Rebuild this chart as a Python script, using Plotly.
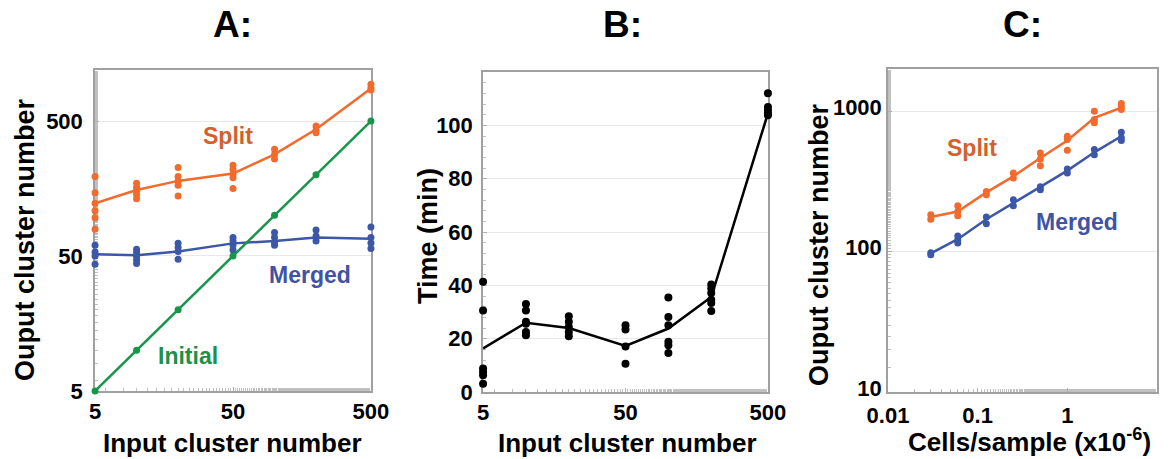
import math
import plotly.graph_objects as go

# ---------------- data ----------------
# Panel A: input cluster number vs output cluster number
A_X = [5, 10, 20, 50, 100, 200, 500]
A_INITIAL = [5, 10, 20, 50, 100, 200, 500]
A_SPLIT_LINE = [123, 154, 180, 204, 283, 434, 870]
A_SPLIT_PTS = [
    [194, 147, 123, 108, 96, 79],
    [173, 161, 151, 143, 133],
    [226, 194, 180, 167, 139],
    [235, 219, 201, 190, 158],
    [309, 283, 261],
    [459, 427, 410],
    [935, 883, 849],
]
A_MERGED_LINE = [51.5, 50.6, 53.9, 62, 64.6, 68.4, 67.2]
A_MERGED_PTS = [
    [60, 53.5, 50, 43.4],
    [56, 53, 49.5, 46.7, 44],
    [62, 57.7, 54, 47.3],
    [68.4, 64.6, 60, 55.3],
    [74.5, 68.4, 62.8, 60],
    [78, 70.3, 64.6],
    [82, 68.4, 62.5, 56.7],
]

# Panel B: input cluster number vs time (min)
B_X = [5, 10, 20, 50, 100, 200, 500]
B_LINE = [16.3, 26, 24, 17.3, 23.8, 35.6, 104.5]
B_PTS = [
    [41.3, 30.6, 8.8, 7.5, 6.3, 3.1],
    [33, 30.6, 26.3, 25.6, 22.5, 21.3],
    [28.4, 26.3, 24.4, 22.5, 20.9],
    [25, 23.4, 17.1, 10.6],
    [35.4, 28.1, 25, 18.8, 17.5, 14.6],
    [40.3, 38.8, 37.1, 34.6, 33.4, 30.4],
    [112, 106.9, 105.6, 104.4, 103.8],
]

# Panel C: cells/sample (x10^-6) vs output cluster number
C_X = [0.03, 0.06, 0.125, 0.25, 0.5, 1, 2, 4]
C_SPLIT_LINE = [176, 193, 264, 343, 464, 617, 896, 1057]
C_SPLIT_PTS = [
    [183, 170],
    [212, 193, 180],
    [268, 254],
    [363, 334],
    [504, 457, 409],
    [662, 628, 526],
    [1000, 871, 826],
    [1135, 1074, 1028],
]
C_MERGED_LINE = [97, 122.5, 170, 221, 286, 377, 509, 662]
C_MERGED_PTS = [
    [98, 95],
    [129, 121, 115],
    [176, 158],
    [234, 212],
    [290, 276],
    [387, 363],
    [532, 490],
    [708, 645, 617],
]

A_TICKS = [5, 50, 500]
B_YTICKS = [0, 20, 40, 60, 80, 100]
C_XTICKS = [0.01, 0.1, 1, 10]
C_YTICKS = [10, 100, 1000]

# ---------------- styles ----------------
ORANGE = "#f26a2c"
ORANGE_TXT = "#d4602e"
BLUE = "#3c57a8"
BLUE_TXT = "#4153a3"
GREEN = "#17954a"
GREEN_TXT = "#1e9048"
FONT = "Liberation Sans"


def flatten(xs, pts):
    fx, fy = [], []
    for x, vals in zip(xs, pts):
        for v in vals:
            fx.append(x)
            fy.append(v)
    return fx, fy


fig = go.Figure()


def add_series(xs, line, pts, color, xa, ya, lw=2.5, ms=7):
    px, py = flatten(xs, pts)
    fig.add_trace(go.Scatter(x=xs, y=line, mode="lines", xaxis=xa, yaxis=ya,
                             line=dict(color=color, width=lw), showlegend=False,
                             cliponaxis=False))
    fig.add_trace(go.Scatter(x=px, y=py, mode="markers", xaxis=xa, yaxis=ya,
                             marker=dict(color=color, size=ms), showlegend=False,
                             hoverinfo="skip", cliponaxis=False))


# Panel A
add_series(A_X, A_SPLIT_LINE, A_SPLIT_PTS, ORANGE, "x", "y")
add_series(A_X, A_MERGED_LINE, A_MERGED_PTS, BLUE, "x", "y")
fig.add_trace(go.Scatter(x=A_X, y=A_INITIAL, mode="lines+markers", xaxis="x", yaxis="y",
                         line=dict(color=GREEN, width=2.5), marker=dict(color=GREEN, size=7),
                         showlegend=False, cliponaxis=False))
# Panel B
add_series(B_X, B_LINE, B_PTS, "black", "x2", "y2", lw=2.5, ms=8)
# Panel C
add_series(C_X, C_SPLIT_LINE, C_SPLIT_PTS, ORANGE, "x3", "y3")
add_series(C_X, C_MERGED_LINE, C_MERGED_PTS, BLUE, "x3", "y3")

W, H = 1168, 459
tickfont = dict(family=FONT, size=22, color="black", weight="bold")
frame = dict(showline=True, linecolor="#a0a0a0", linewidth=1.5, mirror=True,
             ticks="inside", ticklen=4, tickcolor="#b0b0b0", tickfont=tickfont,
             zeroline=False, automargin=False, layer="below traces")
minor_log = dict(ticks="inside", ticklen=3, tickcolor="#c0c0c0", showgrid=False)

L5 = math.log10(5) - 0.0004
L500 = math.log10(500) + 0.0004


def xd(a, b):
    return [a / W, b / W]


def yd(top, bottom):
    return [1 - bottom / H, 1 - top / H]


fig.update_layout(
    width=W, height=H, margin=dict(l=0, r=0, t=0, b=0, autoexpand=False),
    plot_bgcolor="white", paper_bgcolor="white", showlegend=False,
    xaxis=dict(domain=xd(95, 371), anchor="y", type="log", range=[L5, L500],
               tickvals=A_TICKS, ticktext=[str(v) for v in A_TICKS], showgrid=False,
               minor=minor_log, **frame),
    yaxis=dict(domain=yd(70, 391), anchor="x", type="log", range=[L5, 3.077],
               tickvals=A_TICKS, ticktext=[str(v) for v in A_TICKS], showgrid=True,
               gridcolor="#e8e8e8", ticklabelstandoff=6, minor=minor_log, **frame),
    xaxis2=dict(domain=xd(483, 768), anchor="y2", type="log", range=[L5, L500],
                tickvals=A_TICKS, ticktext=[str(v) for v in A_TICKS], showgrid=False,
                minor=minor_log, **frame),
    yaxis2=dict(domain=yd(72, 392), anchor="x2", range=[0, 120],
                tickvals=B_YTICKS, showgrid=True, gridcolor="#e8e8e8",
                ticklabelstandoff=4,
                minor=dict(dtick=4, ticks="inside", ticklen=3, tickcolor="#c0c0c0", showgrid=False),
                **frame),
    xaxis3=dict(domain=xd(888, 1157), anchor="y3", type="log", range=[-2, 1],
                tickvals=C_XTICKS, ticktext=["0.01", "0.1", "1", "10"], showgrid=False,
                ticklabelstandoff=3, minor=minor_log, **frame),
    yaxis3=dict(domain=yd(69, 392), anchor="x3", type="log", range=[1, 3.3],
                tickvals=C_YTICKS, ticktext=[str(v) for v in C_YTICKS], showgrid=True,
                gridcolor="#e8e8e8", ticklabelstandoff=0, ticklabelshift=-4,
                minor=minor_log, **frame),
)


def ann(text, x, y, size, color="black", angle=0):
    fig.add_annotation(text=text, x=x / W, y=1 - y / H, xref="paper", yref="paper",
                       showarrow=False, textangle=angle, xanchor="center", yanchor="middle",
                       font=dict(family=FONT, size=size, color=color, weight="bold"))


# Panel titles
ann("A:", 232, 25, 37)
ann("B:", 622, 25, 37)
ann("C:", 1022, 25, 37)
# Axis titles
ann("Input cluster number", 232, 443, 26)
ann("Input cluster number", 627, 443, 26)
ann("Cells/sample (x10<sup>-6</sup>)", 1029, 440, 26)
ann("Ouput cluster number", 25, 240, 27, angle=-90)
ann("Time (min)", 428, 236, 27, angle=-90)
ann("Ouput cluster number", 819, 245, 27, angle=-90)
# Series labels
ann("Split", 228, 136, 23, ORANGE_TXT)
ann("Merged", 310, 275, 23, BLUE_TXT)
ann("Initial", 188, 356, 23, GREEN_TXT)
ann("Split", 972, 148, 23, ORANGE_TXT)
ann("Merged", 1077, 222, 23, BLUE_TXT)

fig.write_html(
    "out.html",
    config={"displayModeBar": False},
    post_script="document.body.style.margin='0';document.body.style.overflow='hidden';",
)
